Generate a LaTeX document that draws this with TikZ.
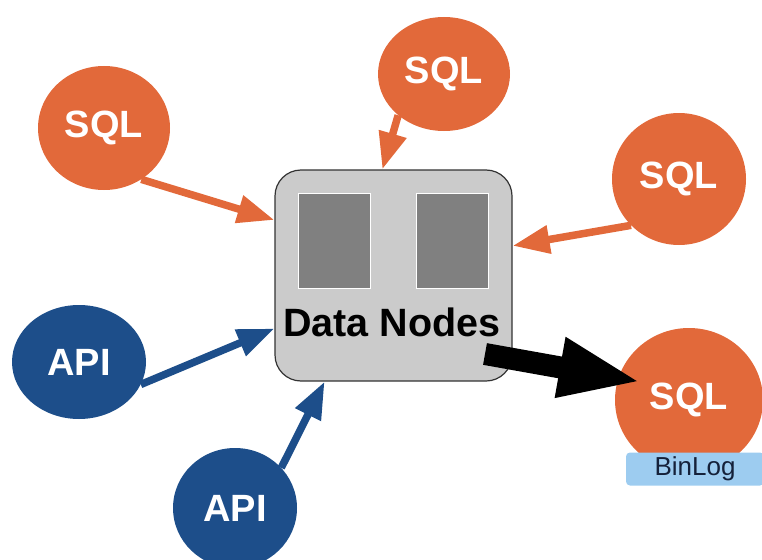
\documentclass[tikz,border=0pt]{standalone}
\usepackage{fontspec}
\setmainfont{Liberation Sans}
\usetikzlibrary{arrows.meta,shapes.geometric,calc}
\definecolor{sqlorange}{HTML}{E2693A}
\definecolor{apiblue}{HTML}{1D4E8A}
\definecolor{boxgray}{HTML}{CBCBCB}
\definecolor{slotgray}{HTML}{808080}
\definecolor{logblue}{HTML}{9DCCF0}
\definecolor{logtext}{HTML}{15213A}
\tikzset{
  bubble/.style={ellipse, inner sep=0pt, text=white,
    font=\bfseries\fontsize{38}{38}\selectfont},
  sqlbubble/.style={bubble, fill=sqlorange},
  apibubble/.style={bubble, fill=apiblue},
  nodebox/.style={rectangle, rounded corners=26pt, draw=black!80,
    line width=1.2pt, fill=boxgray, minimum width=237pt, minimum height=211pt},
  slot/.style={rectangle, fill=slotgray, draw=white, line width=1pt,
    minimum width=72pt, minimum height=95pt},
  sqlflow/.style={draw=sqlorange, line width=7.5pt,
    -{Triangle[length=37pt,width=27pt]}},
  apiflow/.style={draw=apiblue, line width=7.5pt,
    -{Triangle[length=37pt,width=27pt]}},
  replflow/.style={draw=black, line width=22pt,
    -{Triangle[length=83pt,width=55pt]}},
  logbar/.style={rectangle, rounded corners=4pt, fill=logblue,
    minimum width=138pt, minimum height=33pt, inner sep=0pt,
    text=logtext, font=\fontsize{26}{26}\selectfont},
}
\begin{document}
\begin{tikzpicture}[x=1pt,y=-1pt]
  \useasboundingbox (0,0) rectangle (762,559);
  \clip (0,0) rectangle (762,559);

  % the central data node block
  \node[nodebox] (dn) at (393.5,275.5) {};
  \node[slot] (slotA) at (334,240.5) {};
  \node[slot] (slotB) at (452.5,240.5) {};
  \node[font=\bfseries\fontsize{39.5}{40}\selectfont] (dntext) at (392,322) {Data Nodes};

  % clients
  \node[sqlbubble, minimum width=132pt, minimum height=124pt] (sqlA) at (104,128) {SQL};
  \node[sqlbubble, minimum width=132pt, minimum height=114pt] (sqlB) at (444,74) {SQL};
  \node[sqlbubble, minimum width=134pt, minimum height=132pt] (sqlC) at (679,179) {SQL};
  \node[apibubble, minimum width=134pt, minimum height=114pt] (apiA) at (79,362) {API};
  \node[apibubble, minimum width=124pt, minimum height=120pt] (apiB) at (235,508) {API};

  % replica with its binlog
  \node[sqlbubble, minimum width=148pt, minimum height=144pt] (sqlR) at (689,400) {SQL};
  \node[logbar] (binlog) at (695,469) {BinLog};

  % incoming traffic
  \draw[sqlflow] (sqlA.-54) -- (dn.155.7);
  \draw[sqlflow] (sqlB.222) -- (dn.96.8);
  \draw[sqlflow] (sqlC.224) -- (dn.14.3);
  \draw[apiflow] (apiA.-20) -- (dn.204.7);
  \draw[apiflow] (apiB.41) -- (dn.237.5);

  % replication out of the block, into the replica
  \coordinate (replstart) at (485,354);
  \draw[replflow] (replstart) -- ($(sqlR.west)+(27,-18)$);
\end{tikzpicture}
\end{document}
